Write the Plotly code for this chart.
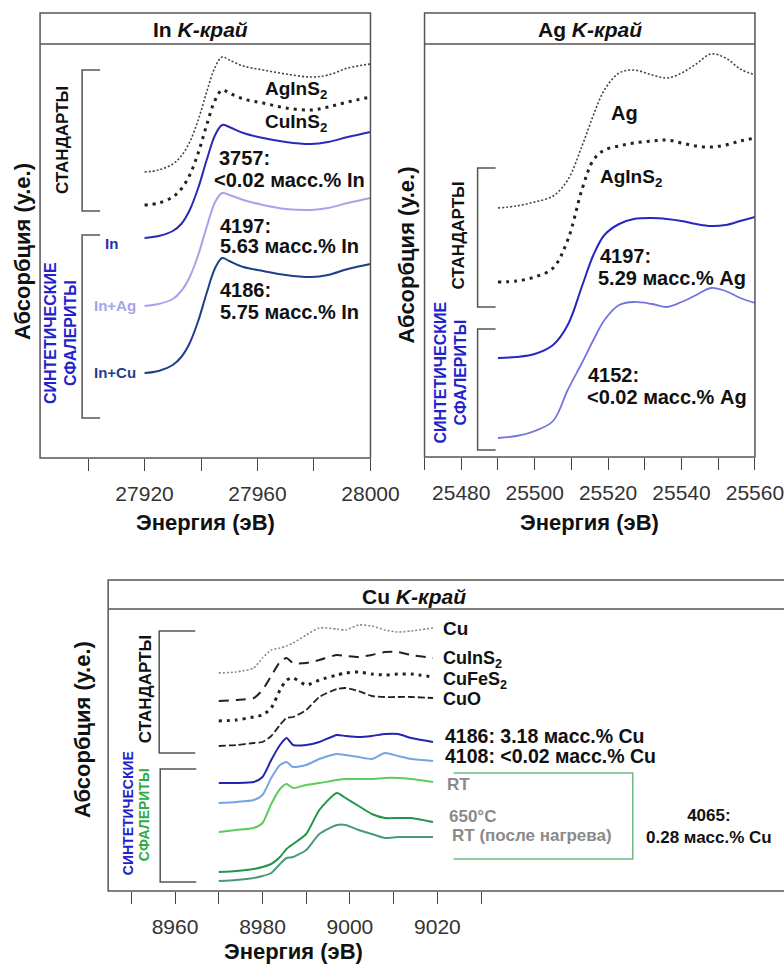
import plotly.graph_objects as go

# reference pixel frame
REF_W, REF_H = 784, 964
# the photographed page comes out horizontally compressed (~0.963), so the figure is made wider
FIG_W, FIG_H = 814, 964

# ---------------- In K-edge ----------------
in_energy = [27920, 27925, 27930, 27933, 27936, 27939, 27942, 27945, 27947.5, 27950,
             27955, 27962, 27970, 27979, 27985, 27992, 28000]
in_AgInS2 = [2.86, 2.88, 2.94, 3.02, 3.16, 3.38, 3.66, 3.91, 4.01, 3.98, 3.92, 3.88, 3.84, 3.81, 3.83, 3.90, 3.94]
in_CuInS2 = [2.53, 2.55, 2.61, 2.69, 2.83, 3.05, 3.33, 3.58, 3.68, 3.65, 3.59, 3.55, 3.50, 3.48, 3.51, 3.56, 3.61]
in_3757 = [2.20, 2.22, 2.27, 2.34, 2.48, 2.70, 2.98, 3.23, 3.33, 3.31, 3.25, 3.20, 3.16, 3.14, 3.16, 3.21, 3.26]
in_4197 = [1.52, 1.54, 1.59, 1.67, 1.81, 2.03, 2.31, 2.56, 2.65, 2.63, 2.58, 2.53, 2.49, 2.48, 2.50, 2.55, 2.60]
in_4186 = [0.85, 0.87, 0.93, 1.01, 1.15, 1.37, 1.65, 1.90, 2.00, 1.97, 1.91, 1.87, 1.83, 1.81, 1.83, 1.89, 1.94]
in_tick_vals = [27920, 27960, 28000]
in_tick_text = ["27920", "27960", "28000"]
in_minor_vals = [27900, 27940, 27980]

# ---------------- Ag K-edge ----------------
ag_energy = [25490, 25495, 25500, 25505, 25509, 25513, 25516, 25519, 25523, 25527,
             25532, 25536, 25540, 25544, 25548, 25552, 25556, 25560]
ag_Ag = [2.49, 2.51, 2.55, 2.61, 2.77, 3.12, 3.42, 3.67, 3.84, 3.87, 3.82, 3.79, 3.84, 3.93, 4.03, 3.99, 3.88, 3.82]
ag_AgInS2 = [1.75, 1.76, 1.80, 1.89, 2.17, 2.69, 2.97, 3.07, 3.11, 3.14, 3.16, 3.17, 3.14, 3.11, 3.10, 3.12, 3.16, 3.19]
ag_4197 = [0.99, 1.00, 1.03, 1.12, 1.32, 1.72, 2.02, 2.22, 2.33, 2.38, 2.39, 2.38, 2.36, 2.33, 2.31, 2.32, 2.36, 2.40]
ag_4152 = [0.19, 0.21, 0.26, 0.36, 0.67, 0.95, 1.17, 1.37, 1.52, 1.55, 1.53, 1.50, 1.55, 1.62, 1.69, 1.66, 1.59, 1.54]
ag_tick_vals = [25480, 25500, 25520, 25540, 25560]
ag_tick_text = ["25480", "25500", "25520", "25540", "25560"]
ag_minor_vals = [25470, 25490, 25510, 25530, 25550]

# ---------------- Cu K-edge ----------------
cu_energy = [8970, 8974, 8978, 8980, 8982, 8984, 8985.5, 8987, 8990, 8993, 8997, 8999,
             9002, 9005, 9008, 9011, 9014, 9019]
cu_Cu = [2.18, 2.19, 2.23, 2.33, 2.41, 2.43, 2.45, 2.48, 2.56, 2.63, 2.62, 2.61, 2.66, 2.65, 2.61, 2.59, 2.60, 2.63]
cu_CuInS2 = [1.90, 1.91, 1.93, 2.01, 2.15, 2.29, 2.33, 2.28, 2.28, 2.31, 2.36, 2.35, 2.34, 2.36, 2.39, 2.39, 2.36, 2.33]
cu_CuFeS2 = [1.70, 1.71, 1.74, 1.76, 1.83, 2.01, 2.11, 2.13, 2.06, 2.11, 2.16, 2.18, 2.19, 2.17, 2.16, 2.17, 2.17, 2.14]
cu_CuO = [1.45, 1.46, 1.48, 1.49, 1.55, 1.66, 1.73, 1.74, 1.81, 1.94, 2.02, 2.03, 2.00, 1.95, 1.94, 1.94, 1.94, 1.93]
cu_4186 = [1.08, 1.08, 1.09, 1.14, 1.31, 1.46, 1.53, 1.46, 1.46, 1.49, 1.56, 1.55, 1.54, 1.55, 1.57, 1.57, 1.53, 1.49]
cu_4108 = [0.88, 0.89, 0.91, 0.96, 1.13, 1.26, 1.29, 1.24, 1.26, 1.32, 1.37, 1.36, 1.34, 1.32, 1.38, 1.35, 1.32, 1.30]
cu_RT = [0.59, 0.61, 0.63, 0.68, 0.87, 1.02, 1.07, 1.03, 1.06, 1.08, 1.11, 1.12, 1.12, 1.12, 1.13, 1.13, 1.12, 1.09]
cu_650 = [0.19, 0.20, 0.22, 0.24, 0.27, 0.34, 0.42, 0.47, 0.57, 0.81, 0.98, 0.93, 0.85, 0.77, 0.73, 0.73, 0.73, 0.69]
cu_RT_heated = [0.10, 0.11, 0.13, 0.15, 0.18, 0.27, 0.33, 0.34, 0.41, 0.57, 0.66, 0.66, 0.61, 0.57, 0.53, 0.54, 0.54, 0.54]
cu_tick_vals = [8960, 8980, 9000, 9020]
cu_tick_text = ["8960", "8980", "9000", "9020"]
cu_minor_vals = [8950, 8970, 8990, 9010, 9030]

FONT = "Liberation Sans, Arial, sans-serif"


def px(x):
    return x / REF_W


def py(y):
    return 1 - y / REF_H


fig = go.Figure()


def add(xs, ys, xa, ya, color, width, dash="solid", shape="spline", smooth=1.0):
    fig.add_trace(go.Scatter(x=xs, y=ys, xaxis=xa, yaxis=ya, mode="lines",
                             line=dict(color=color, width=width, dash=dash, shape=shape, smoothing=smooth),
                             showlegend=False, hoverinfo="skip"))


# In panel
add(in_energy, in_AgInS2, "x", "y", "#444444", 1.6, "2px,2px")
add(in_energy, in_CuInS2, "x", "y", "#222222", 3, "3px,5px")
add(in_energy, in_3757, "x", "y", "#2a2ab8", 2)
add(in_energy, in_4197, "x", "y", "#a4a4ea", 2)
add(in_energy, in_4186, "x", "y", "#1f3f8c", 2)

# Ag panel
add(ag_energy, ag_Ag, "x2", "y2", "#444444", 1.6, "2px,2px")
add(ag_energy, ag_AgInS2, "x2", "y2", "#222222", 3, "3px,5px")
add(ag_energy, ag_4197, "x2", "y2", "#2626c0", 2)
add(ag_energy, ag_4152, "x2", "y2", "#7474e0", 1.8)

# Cu panel
add(cu_energy, cu_Cu, "x3", "y3", "#888888", 1.6, "2px,2px", smooth=0.6)
add(cu_energy, cu_CuInS2, "x3", "y3", "#222222", 2, "10px,7px", smooth=0.6)
add(cu_energy, cu_CuFeS2, "x3", "y3", "#222222", 3, "3px,5px", smooth=0.6)
add(cu_energy, cu_CuO, "x3", "y3", "#222222", 1.8, "7px,3px", smooth=0.6)
add(cu_energy, cu_4186, "x3", "y3", "#2424b4", 2, smooth=0.6)
add(cu_energy, cu_4108, "x3", "y3", "#74a4e4", 2, smooth=0.6)
add(cu_energy, cu_RT, "x3", "y3", "#5ccc5c", 2, smooth=0.6)
add(cu_energy, cu_650, "x3", "y3", "#23944a", 2, smooth=0.6)
add(cu_energy, cu_RT_heated, "x3", "y3", "#4a9a7a", 2, smooth=0.6)


def xaxis_cfg(domain, rng, anchor, vals, texts, minor_vals):
    return dict(domain=domain, range=rng, anchor=anchor,
                tickmode="array", tickvals=vals, ticktext=texts,
                ticks="outside", ticklen=12, tickwidth=1.3, tickcolor="#444",
                minor=dict(tickmode="array", tickvals=minor_vals, ticks="outside",
                           ticklen=12, tickwidth=1.3, tickcolor="#444", showgrid=False),
                showgrid=False, zeroline=False, showline=False,
                tickfont=dict(size=21, color="#333", family=FONT),
                ticklabelstandoff=5)


fig.update_layout(
    autosize=False, width=FIG_W, height=FIG_H, margin=dict(l=0, r=0, t=0, b=0, pad=0),
    paper_bgcolor="white", plot_bgcolor="white",
    font=dict(family=FONT, color="#111"),
    xaxis=xaxis_cfg([px(40), px(370)], [27883, 28000], "y", in_tick_vals, in_tick_text, in_minor_vals),
    yaxis=dict(domain=[py(458), py(44)], range=[0, 4.14], visible=False, anchor="x"),
    xaxis2=xaxis_cfg([px(424), px(754)], [25470, 25560], "y2", ag_tick_vals, ag_tick_text, ag_minor_vals),
    yaxis2=dict(domain=[py(457), py(44)], range=[0, 4.13], visible=False, anchor="x2"),
    xaxis3=xaxis_cfg([px(108), 1.0], [8944.7, 9099.5], "y3", cu_tick_vals, cu_tick_text, cu_minor_vals),
    yaxis3=dict(domain=[py(891), py(609)], range=[0, 2.82], visible=False, anchor="x3"),
)

shapes = []
FRAME = dict(color="#555555", width=1.5)


def rect(x0, y0, x1, y1, line=FRAME):
    shapes.append(dict(type="rect", xref="paper", yref="paper", x0=px(x0), x1=px(x1),
                       y0=py(y1), y1=py(y0), line=line, fillcolor="rgba(0,0,0,0)", layer="above"))


def hline(x0, x1, y, line=FRAME):
    shapes.append(dict(type="line", xref="paper", yref="paper", x0=px(x0), x1=px(x1),
                       y0=py(y), y1=py(y), line=line, layer="above"))


def bracket(x, y0, y1, x_end, color="#555555"):
    path = "M %f,%f L %f,%f L %f,%f L %f,%f" % (px(x_end), py(y0), px(x), py(y0), px(x), py(y1), px(x_end), py(y1))
    shapes.append(dict(type="path", xref="paper", yref="paper", path=path,
                       line=dict(color=color, width=1.5)))


# frames
rect(40, 13, 370, 458)
hline(40, 370, 44)
rect(424, 13, 754, 457)
hline(424, 754, 44)
rect(108, 580, 792, 891)
hline(108, 792, 609)

# brackets
bracket(82, 70, 211, 100)
bracket(82, 235, 418, 100)
bracket(477, 168, 307, 495)
bracket(477, 329, 450, 495)
bracket(159, 631, 753, 195)
bracket(160, 769, 882, 196)

# green box around heated-sample labels
gpath = "M %f,%f L %f,%f L %f,%f L %f,%f" % (px(453), py(773), px(632), py(773), px(632), py(859), px(453), py(859))
shapes.append(dict(type="path", xref="paper", yref="paper", path=gpath, line=dict(color="#6dbb7f", width=1.5)))

fig.update_layout(shapes=shapes)

ann = []


def text(x, y, s, size=18, color="#111", xanchor="left", angle=0, yanchor="middle", align="left"):
    ann.append(dict(x=px(x), y=py(y), xref="paper", yref="paper", text=s, showarrow=False,
                    xanchor=xanchor, yanchor=yanchor, textangle=angle, align=align,
                    font=dict(size=size, color=color, family=FONT)))


# panel titles
text(200, 29, "<b>In <i>K-край</i></b>", 21, xanchor="center")
text(589, 29, "<b>Ag <i>K-край</i></b>", 21, xanchor="center")
text(413, 596, "<b>Cu <i>K-край</i></b>", 21, xanchor="center")

# axis titles
text(205, 522, "<b>Энергия (эВ)</b>", 22, xanchor="center")
text(589, 522, "<b>Энергия (эВ)</b>", 22, xanchor="center")
text(293, 951, "<b>Энергия (эВ)</b>", 22, xanchor="center")
text(23, 252, "<b>Абсорбция (у.е.)</b>", 22, xanchor="center", angle=-90)
text(406, 255, "<b>Абсорбция (у.е.)</b>", 22, xanchor="center", angle=-90)
text(82, 730, "<b>Абсорбция (у.е.)</b>", 22, xanchor="center", angle=-90)

# group labels
BLUE = "#2222cc"
text(62, 140, "<b>СТАНДАРТЫ</b>", 17, xanchor="center", angle=-90)
text(50, 333, "<b>СИНТЕТИЧЕСКИЕ</b>", 16, BLUE, xanchor="center", angle=-90)
text(70, 333, "<b>СФАЛЕРИТЫ</b>", 16, BLUE, xanchor="center", angle=-90)
text(457, 236, "<b>СТАНДАРТЫ</b>", 17, xanchor="center", angle=-90)
text(440, 373, "<b>СИНТЕТИЧЕСКИЕ</b>", 16, BLUE, xanchor="center", angle=-90)
text(460, 373, "<b>СФАЛЕРИТЫ</b>", 16, BLUE, xanchor="center", angle=-90)
text(145, 689, "<b>СТАНДАРТЫ</b>", 17, xanchor="center", angle=-90)
text(128, 813, "<b>СИНТЕТИЧЕСКИЕ</b>", 14, BLUE, xanchor="center", angle=-90)
text(144, 815, "<b>СФАЛЕРИТЫ</b>", 14, "#33aa44", xanchor="center", angle=-90)

# In panel labels
text(296, 90, "<b>AgInS<sub>2</sub></b>", 19, xanchor="center")
text(296, 123, "<b>CuInS<sub>2</sub></b>", 19, xanchor="center")
text(217, 158, "<b>3757:</b>", 20)
text(212, 180, "<b>&lt;0.02 масс.% In</b>", 20)
text(218, 226, "<b>4197:</b>", 20)
text(218, 246, "<b>5.63 масс.% In</b>", 20)
text(218, 290, "<b>4186:</b>", 20)
text(218, 312, "<b>5.75 масс.% In</b>", 20)
text(111, 243, "<b>In</b>", 15, "#2a2ab8", xanchor="center")
text(115, 305, "<b>In+Ag</b>", 15, "#a4a4ea", xanchor="center")
text(115, 373, "<b>In+Cu</b>", 15, "#1f3f8c", xanchor="center")

# Ag panel labels
text(608, 113, "<b>Ag</b>", 20)
text(597, 178, "<b>AgInS<sub>2</sub></b>", 19)
text(597, 256, "<b>4197:</b>", 20)
text(595, 278, "<b>5.29 масс.% Ag</b>", 20)
text(585, 375, "<b>4152:</b>", 20)
text(584, 397, "<b>&lt;0.02 масс.% Ag</b>", 20)

# Cu panel labels
text(440, 628, "<b>Cu</b>", 19)
text(440, 659, "<b>CuInS<sub>2</sub></b>", 18)
text(440, 680, "<b>CuFeS<sub>2</sub></b>", 18)
text(440, 699, "<b>CuO</b>", 18)
text(442, 736, "<b>4186: 3.18 масс.% Cu</b>", 19.5)
text(442, 756, "<b>4108: &lt;0.02 масс.% Cu</b>", 19.5)
GRAY = "#8a8a8a"
text(444, 784, "<b>RT</b>", 17, GRAY)
text(446, 816, "<b>650°C</b>", 17, GRAY)
text(449, 835, "<b>RT (после нагрева)</b>", 17, GRAY)
text(708, 826, "<b>4065:</b><br><b>0.28 масс.% Cu</b>", 17, xanchor="center", align="center")

fig.update_layout(annotations=ann)

fig.write_html("out.html",
               config={"displayModeBar": False, "responsive": False},
               post_script="document.body.style.margin='0';")
